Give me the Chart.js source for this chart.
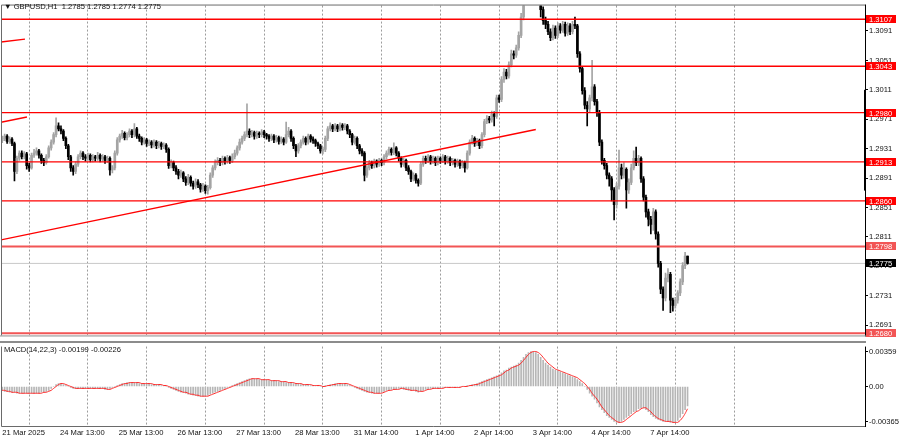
<!DOCTYPE html>
<html>
<head>
<meta charset="utf-8">
<script src="https://cdn.jsdelivr.net/npm/chart.js@4.4.1/dist/chart.umd.min.js"></script>
<style>
  html, body { margin: 0; padding: 0; background: #fff; }
  #wrap { position: relative; width: 900px; height: 441px; background: #fff; overflow: hidden; }
  canvas { position: absolute; left: 0; }
  .cap { position: absolute; font: 7.6px 'Liberation Sans', Arial, sans-serif; color: #111; white-space: pre; line-height: 9px; }
</style>
</head>
<body>
<div id="wrap">
  <canvas id="main" width="900" height="341" style="top:0"></canvas>
  <canvas id="macd" width="900" height="100" style="top:341px"></canvas>
  <div class="cap" id="head" style="left:4px;top:2px"></div>
  <div class="cap" style="left:4px;top:345px">MACD(14,22,3) -0.00199 -0.00226</div>
</div>
<script>
/* ════════════════════════════════════════════
   GBPUSD H1 — candles + MACD(14,22,3)
   ════════════════════════════════════════════ */

// ── Data ─────────────────────────────────────
// prices are pips above 1.0000  (2945 -> 1.2945)
const SYMBOL = 'GBPUSD,H1';

const opens = [
  2942,2945,2948,2941,2944,2938,2900,2918,2925,2920,
  2924,2908,2905,2922,2925,2928,2922,2915,2912,2920,
  2932,2940,2950,2962,2958,2955,2945,2935,2920,2905,
  2900,2910,2920,2925,2920,2918,2922,2916,2920,2918,
  2922,2917,2920,2915,2918,2902,2905,2925,2943,2948,
  2952,2946,2950,2955,2950,2958,2948,2945,2940,2943,
  2938,2940,2936,2940,2935,2938,2934,2936,2930,2908,
  2912,2905,2900,2895,2898,2890,2885,2892,2884,2880,
  2886,2882,2876,2880,2874,2878,2895,2905,2912,2915,
  2912,2918,2914,2919,2915,2920,2925,2932,2940,2945,
  2950,2955,2950,2953,2948,2952,2950,2954,2950,2948,
  2945,2948,2943,2946,2941,2944,2940,2950,2955,2945,
  2935,2928,2935,2940,2945,2940,2948,2944,2942,2938,
  2935,2928,2930,2945,2958,2962,2958,2962,2958,2963,
  2960,2962,2955,2950,2940,2945,2935,2928,2925,2895,
  2905,2912,2908,2914,2910,2915,2912,2920,2925,2930,
  2926,2932,2925,2918,2910,2915,2905,2900,2890,2895,
  2888,2884,2910,2918,2915,2920,2914,2918,2912,2918,
  2915,2920,2914,2918,2912,2915,2910,2914,2908,2912,
  2905,2925,2940,2945,2938,2942,2935,2950,2968,2972,
  2970,2978,2975,3000,2998,3025,3035,3030,3045,3060,
  3058,3068,3085,3110,3135,3150,3170,3190,3180,3160,
  3140,3120,3105,3100,3090,3082,3095,3085,3098,3092,
  3100,3088,3098,3090,3100,3098,3060,3040,3010,2990,
  2985,3000,3015,2995,2980,2940,2915,2908,2895,2890,
  2875,2855,2880,2905,2895,2903,2875,2885,2905,2918,
  2912,2918,2890,2865,2845,2835,2828,2845,2815,2775,
  2740,2728,2755,2760,2725,2718,2725,2735,2750,2772,
  2785
];
const highs = [
  2948,2951,2950,2947,2946,2940,2921,2928,2928,2927,
  2926,2911,2925,2930,2932,2930,2924,2918,2923,2935,
  2943,2953,2973,2966,2962,2957,2947,2937,2922,2908,
  2913,2923,2928,2927,2923,2925,2924,2923,2922,2926,
  2924,2923,2922,2921,2920,2908,2928,2946,2951,2956,
  2954,2953,2958,2957,2965,2960,2951,2947,2946,2945,
  2943,2942,2943,2942,2941,2940,2939,2938,2932,2916,
  2914,2908,2903,2902,2900,2893,2896,2894,2887,2890,
  2889,2884,2884,2882,2881,2898,2908,2916,2919,2918,
  2921,2920,2922,2921,2924,2929,2935,2944,2948,2954,
  2992,2958,2956,2955,2955,2954,2957,2956,2952,2950,
  2951,2950,2949,2948,2947,2946,2967,2960,2957,2947,
  2937,2938,2943,2948,2947,2951,2950,2947,2944,2940,
  2937,2933,2948,2961,2966,2964,2965,2964,2966,2965,
  2965,2964,2957,2952,2948,2947,2937,2931,2927,2908,
  2915,2914,2917,2916,2918,2917,2923,2928,2933,2932,
  2939,2934,2927,2920,2918,2917,2908,2902,2898,2897,
  2890,2913,2921,2921,2923,2922,2921,2920,2921,2920,
  2923,2922,2921,2920,2918,2917,2917,2916,2915,2914,
  2928,2943,2949,2947,2945,2944,2953,2971,2976,2975,
  2982,2981,3004,3004,3029,3040,3039,3049,3065,3064,
  3072,3090,3115,3140,3158,3178,3207,3198,3185,3165,
  3145,3124,3110,3104,3094,3099,3098,3102,3101,3104,
  3103,3102,3101,3104,3110,3100,3063,3043,3014,2995,
  3004,3051,3018,2998,2983,2943,2918,2911,2898,2893,
  2878,2884,2929,2910,2912,2905,2890,2910,2928,2933,
  2922,2920,2893,2868,2849,2839,2850,2848,2818,2778,
  2743,2762,2768,2763,2728,2729,2738,2754,2776,2790,
  2785
];
const lows = [
  2939,2942,2938,2938,2935,2887,2897,2915,2917,2917,
  2903,2900,2903,2919,2922,2918,2911,2908,2910,2918,
  2929,2937,2947,2955,2951,2942,2931,2916,2900,2895,
  2897,2907,2917,2916,2914,2915,2913,2913,2914,2915,
  2913,2914,2911,2912,2895,2898,2902,2922,2940,2945,
  2943,2943,2947,2946,2947,2945,2941,2936,2937,2934,
  2935,2932,2933,2931,2932,2930,2931,2926,2904,2905,
  2901,2896,2890,2892,2886,2881,2882,2880,2876,2877,
  2878,2872,2873,2870,2869,2876,2892,2902,2909,2908,
  2909,2910,2911,2911,2912,2917,2922,2929,2937,2942,
  2947,2946,2947,2944,2945,2946,2947,2946,2944,2941,
  2942,2939,2940,2937,2938,2936,2938,2947,2941,2931,
  2920,2925,2932,2937,2936,2937,2940,2938,2934,2931,
  2925,2924,2927,2942,2955,2954,2955,2954,2955,2956,
  2957,2951,2946,2936,2937,2931,2924,2921,2887,2892,
  2902,2904,2905,2906,2907,2908,2909,2917,2922,2922,
  2923,2921,2914,2906,2907,2901,2896,2886,2887,2884,
  2880,2882,2907,2911,2912,2910,2911,2908,2909,2911,
  2912,2910,2911,2908,2909,2906,2907,2904,2905,2899,
  2903,2922,2937,2934,2935,2931,2932,2947,2965,2966,
  2967,2962,2972,2994,2995,3021,3026,3027,3042,3053,
  3055,3065,3082,3106,3130,3145,3165,3172,3152,3132,
  3110,3100,3094,3086,3078,3079,3081,3082,3088,3089,
  3084,3085,3086,3087,3094,3055,3035,3005,2985,2962,
  2980,2996,2990,2975,2935,2910,2903,2890,2880,2860,
  2834,2850,2876,2890,2891,2850,2870,2882,2902,2908,
  2908,2885,2860,2838,2826,2815,2820,2808,2770,2734,
  2711,2724,2750,2708,2710,2714,2721,2731,2746,2768,
  2774
];
const closes = [
  2945,2948,2941,2944,2938,2900,2918,2925,2920,2924,
  2908,2905,2922,2925,2928,2922,2915,2912,2920,2932,
  2940,2950,2962,2958,2955,2945,2935,2920,2905,2900,
  2910,2920,2925,2920,2918,2922,2916,2920,2918,2922,
  2917,2920,2915,2918,2902,2905,2925,2943,2948,2952,
  2946,2950,2955,2950,2958,2948,2945,2940,2943,2938,
  2940,2936,2940,2935,2938,2934,2936,2930,2908,2912,
  2905,2900,2895,2898,2890,2885,2892,2884,2880,2886,
  2882,2876,2880,2874,2878,2895,2905,2912,2915,2912,
  2918,2914,2919,2915,2920,2925,2932,2940,2945,2950,
  2955,2950,2953,2948,2952,2950,2954,2950,2948,2945,
  2948,2943,2946,2941,2944,2940,2950,2955,2945,2935,
  2928,2935,2940,2945,2940,2948,2944,2942,2938,2935,
  2928,2930,2945,2958,2962,2958,2962,2958,2963,2960,
  2962,2955,2950,2940,2945,2935,2928,2925,2895,2905,
  2912,2908,2914,2910,2915,2912,2920,2925,2930,2926,
  2932,2925,2918,2910,2915,2905,2900,2890,2895,2888,
  2884,2910,2918,2915,2920,2914,2918,2912,2918,2915,
  2920,2914,2918,2912,2915,2910,2914,2908,2912,2905,
  2925,2940,2945,2938,2942,2935,2950,2968,2972,2970,
  2978,2975,3000,2998,3025,3035,3030,3045,3060,3058,
  3068,3085,3110,3135,3150,3170,3190,3180,3160,3140,
  3120,3105,3100,3090,3082,3095,3085,3098,3092,3100,
  3088,3098,3090,3100,3098,3060,3040,3010,2990,2985,
  3000,3015,2995,2980,2940,2915,2908,2895,2890,2875,
  2855,2880,2905,2895,2903,2875,2885,2905,2918,2912,
  2918,2890,2865,2845,2835,2828,2845,2815,2775,2740,
  2728,2755,2760,2725,2718,2725,2735,2750,2772,2785,
  2775
];

// MACD main (histogram) and signal, in units of 0.0001
const macdMain = [
  -4,-5,-5,-6,-6,-6,-7,-7,-7,-7,-7,-7,
  -7,-7,-7,-7,-6,-6,-5,-4,-2,
  0,2,3,3,2,1,0,
  -1,-2,-2,-2,-2,
  -2,-2,-2,-2,-2,-2,-2,-2,-2,-3,-3,-2,-1,0,
  1,2,3,3,4,4,4,4,4,3,
  3,3,3,3,2,2,2,2,1,1,0,
  -1,-2,-3,-4,-5,-6,-6,-7,-8,-8,-9,-9,-10,-10,-10,-10,
  -9,-8,-7,-6,-5,-4,-3,-2,-1,0,1,
  2,3,4,5,6,7,8,8,
  8,8,7,7,7,7,6,6,6,6,5,5,5,4,4,4,3,3,3,2,
  2,2,2,1,1,1,1,0,0,1,1,2,2,3,3,
  3,3,3,2,1,
  0,-1,-2,-3,-4,-5,-6,-6,-7,-7,-7,-7,
  -6,-5,-4,-4,-3,-3,-3,-2,-2,-3,-3,-4,-4,
  -4,-5,-6,-5,-4,
  -3,-3,-2,-2,-2,-2,-2,-1,-1,-1,-1,-1,-1,-1,0,0,0,
  1,1,2,2,3,4,5,6,7,8,9,10,11,12,
  14,16,17,19,20,21,22,24,
  27,30,33,35,36,36,35,
  33,30,27,24,22,20,18,17,16,15,
  14,13,12,11,10,9,7,5,
  3,0,-3,-7,-10,-13,-17,-21,
  -24,-27,-30,-32,-34,-36,-37,-37,
  -36,-34,-32,-30,-28,-26,-25,-23,-22,-22,
  -24,-26,-29,-31,-33,-34,-35,-36,
  -36,-36,-37,-37,-37,-35,
  -32,-28,-24,-20
];
const macdSignal = [
  -4,-4,-5,-5,-6,-6,-6,-7,-7,-7,-7,-7,
  -7,-7,-7,-7,-7,-6,-6,-5,-4,
  -2,0,2,3,3,2,1,
  0,-1,-2,-2,-2,
  -2,-2,-2,-2,-2,-2,-2,-2,-2,-2,-3,-3,-2,-1,
  0,1,2,3,3,4,4,4,4,4,
  3,3,3,3,3,2,2,2,2,1,1,
  0,-1,-2,-3,-4,-5,-6,-6,-7,-8,-8,-9,-9,-10,-10,-10,
  -10,-9,-8,-7,-6,-5,-4,-3,-2,-1,0,
  1,2,3,4,5,6,7,8,
  8,8,8,7,7,7,7,6,6,6,6,5,5,5,4,4,4,3,3,3,
  2,2,2,2,1,1,1,1,0,0,1,1,2,2,3,
  3,3,3,3,2,
  1,0,-1,-2,-3,-4,-5,-6,-6,-7,-7,-7,
  -7,-6,-5,-4,-4,-3,-3,-3,-2,-2,-3,-3,-4,
  -4,-4,-5,-5,-5,
  -4,-3,-3,-2,-2,-2,-2,-2,-1,-1,-1,-1,-1,-1,-1,0,0,
  0,1,1,2,2,3,4,5,6,7,8,9,10,11,
  12,14,16,17,19,20,21,22,
  24,27,30,33,35,36,36,
  35,33,30,27,24,22,20,18,17,16,
  15,14,13,12,11,10,9,7,
  5,3,0,-3,-7,-10,-13,-17,
  -21,-24,-27,-30,-32,-34,-36,-37,
  -37,-36,-34,-32,-30,-28,-26,-25,-23,-22,
  -22,-24,-26,-29,-31,-33,-34,-35,
  -36,-36,-36,-37,-37,-37,
  -35,-32,-28,-23
];

// horizontal levels and trend lines (bar index, price)
const levels = [3107, 3043, 2980, 2913, 2860, 2798, 2680];
const trendLines = [
  [-0.5, 2807, 218, 2957],
  [-0.5, 3076, 9.3, 3080],
  [-0.5, 2967, 10.1, 2974]
];
const rangeMark = [3011, 2874];

// axis ticks
const priceTicks = [2691, 2731, 2771, 2811, 2851, 2891, 2931, 2971, 3011, 3051, 3091];
const macdTicks = [0.00359, 0, -0.00365];
const macdTickLabels = ['0.00359', '0.00', '-0.00365'];
const tickBars = [11, 35, 59, 83, 107, 131, 155, 179, 203, 227, 251, 275, 299];
const timeLabels = ['21 Mar 2025', '24 Mar 13:00', '25 Mar 13:00', '26 Mar 13:00', '27 Mar 13:00',
  '28 Mar 13:00', '31 Mar 14:00', '1 Apr 14:00', '2 Apr 14:00', '3 Apr 14:00', '4 Apr 14:00', '7 Apr 14:00'];

// ── Layout / style ───────────────────────────
const SLOTS = 353;                 // bars + empty shift on the right
const Y_MIN = 1.267707, Y_MAX = 1.312558;
const M_MIN = -0.004074, M_MAX = 0.004113;
const MACD_UNIT = 0.0001;
const FONT = "'Liberation Sans', Arial, sans-serif";
const FS = 7.6;
const BULL = '#a4a4a4', BEAR = '#000000';
const RED = '#ff0000', RED_SOFT = '#f25555';

const px = v => 1 + v / 10000;
const last = closes.length - 1;
const slots = Array.from({ length: SLOTS }, (_, i) => i);

document.getElementById('head').textContent =
  `▼ ${SYMBOL}  ${[opens[last], highs[last], lows[last], closes[last]].map(v => px(v).toFixed(4)).join(' ')}`;

const gridColor = ctx => (ctx.tick && tickBars.includes(ctx.tick.value)) ? '#9c9c9c' : 'rgba(0,0,0,0)';

// ── Plugins ──────────────────────────────────
const mainFrame = {
  id: 'mainFrame',
  afterDraw(chart) {
    const { ctx, chartArea: a } = chart;
    ctx.save();
    ctx.lineWidth = 1;
    ctx.strokeStyle = '#6a6a6a';
    ctx.beginPath();
    ctx.moveTo(a.left + 0.5, a.bottom); ctx.lineTo(a.left + 0.5, a.top - 0.5);
    ctx.lineTo(a.right + 0.5, a.top - 0.5);
    ctx.stroke();
    ctx.strokeStyle = '#000';
    ctx.beginPath();
    ctx.moveTo(a.right + 0.5, a.top - 1); ctx.lineTo(a.right + 0.5, a.bottom + 1);
    ctx.stroke();
    ctx.fillStyle = '#8c8c8c';
    ctx.fillRect(0, a.bottom, a.right + 1, 1);

    // price tags on the right scale
    const y = chart.scales.y;
    const y1 = y.getPixelForValue(px(rangeMark[0])), y2 = y.getPixelForValue(px(rangeMark[1]));
    ctx.fillStyle = '#000';
    ctx.fillRect(a.right - 1, y1, 2, y2 - y1);

    ctx.font = `${FS}px ${FONT}`;
    ctx.textBaseline = 'middle';
    const tag = (v, bg) => {
      const yy = Math.round(y.getPixelForValue(px(v)));
      ctx.fillStyle = bg;
      ctx.fillRect(a.right + 1, yy - 4, 30, 8);
      ctx.fillStyle = '#fff';
      ctx.fillText(px(v).toFixed(4), a.right + 4, yy + 0.5);
    };
    levels.forEach(lv => tag(lv, lv < 2800 ? RED_SOFT : RED));
    tag(closes[last], '#000');
    ctx.restore();
  }
};

const macdFrame = {
  id: 'macdFrame',
  afterDraw(chart) {
    const { ctx, chartArea: a } = chart;
    ctx.save();
    ctx.fillStyle = '#8c8c8c';
    ctx.fillRect(0, 0, a.right + 1, 2);
    ctx.lineWidth = 1;
    ctx.strokeStyle = '#6a6a6a';
    ctx.beginPath();
    ctx.moveTo(a.left + 0.5, a.top); ctx.lineTo(a.left + 0.5, a.bottom + 0.5);
    ctx.lineTo(a.right, a.bottom + 0.5);
    ctx.stroke();
    ctx.strokeStyle = '#000';
    ctx.beginPath();
    ctx.moveTo(a.right + 0.5, a.top); ctx.lineTo(a.right + 0.5, a.bottom + 1);
    ctx.stroke();
    ctx.restore();
  }
};

// ── Main chart ───────────────────────────────
const candleColors = opens.map((o, i) => closes[i] >= o ? BULL : BEAR);

const lineSet = (pts, color, width, order) => ({
  type: 'line', xAxisID: 'xl', data: pts, borderColor: color, borderWidth: width,
  pointRadius: 0, tension: 0, order
});

new Chart(document.getElementById('main'), {
  type: 'bar',
  data: {
    labels: slots,
    datasets: [
      { data: lows.map((l, i) => [px(l), px(highs[i])]), backgroundColor: candleColors,
        barThickness: 1, grouped: false, order: 2, clip: 0 },
      { data: opens.map((o, i) => [px(o), px(closes[i])]), backgroundColor: candleColors,
        barThickness: 2, minBarLength: 1, grouped: false, order: 1, clip: 0 },
      lineSet([{ x: -0.5, y: px(closes[last]) }, { x: SLOTS - 0.5, y: px(closes[last]) }], '#c8c8c8', 1, 3),
      ...levels.map(lv => lineSet([{ x: -0.5, y: px(lv) }, { x: SLOTS - 0.5, y: px(lv) }],
        lv < 2800 ? RED_SOFT : RED, lv < 2800 ? 2 : 1.4, 0)),
      ...trendLines.map(t => lineSet([{ x: t[0], y: px(t[1]) }, { x: t[2], y: px(t[3]) }], RED, 1.4, 0))
    ]
  },
  options: {
    responsive: false, animation: false, devicePixelRatio: 1,
    layout: { padding: { left: 1, top: 2, right: 0, bottom: 1 } },
    plugins: { legend: { display: false }, tooltip: { enabled: false } },
    elements: { bar: { borderWidth: 0 }, point: { radius: 0 } },
    scales: {
      x: {
        type: 'category', offset: true,
        grid: { offset: false, color: gridColor, lineWidth: 1, drawTicks: false },
        border: { display: false, dash: [2, 2] },
        ticks: { display: false },
        afterFit: s => { s.height = 0; }
      },
      xl: { type: 'linear', display: false, offset: false, grid: { offset: false }, min: -0.5, max: SLOTS - 0.5 },
      y: {
        type: 'linear', position: 'right', min: Y_MIN, max: Y_MAX,
        grid: { drawOnChartArea: false, drawTicks: true, tickLength: 3, tickColor: '#000' },
        border: { display: false },
        ticks: { color: '#111', font: { family: FONT, size: FS }, padding: 1, callback: v => v.toFixed(4) },
        afterBuildTicks: s => { s.ticks = priceTicks.map(p => ({ value: px(p) })); },
        afterFit: s => { s.width = 35; }
      }
    }
  },
  plugins: [mainFrame]
});

// ── MACD chart ───────────────────────────────
new Chart(document.getElementById('macd'), {
  type: 'bar',
  data: {
    labels: slots,
    datasets: [
      { data: macdMain.map(v => v * MACD_UNIT), backgroundColor: '#b6b6b6', barThickness: 1, order: 1, clip: 0 },
      { type: 'line', data: macdSignal.map(v => v * MACD_UNIT), borderColor: '#ff2a2a', borderWidth: 1,
        pointRadius: 0, tension: 0.2, order: 0 }
    ]
  },
  options: {
    responsive: false, animation: false, devicePixelRatio: 1,
    layout: { padding: { left: 1, top: 2, right: 0, bottom: 0 } },
    plugins: { legend: { display: false }, tooltip: { enabled: false } },
    elements: { bar: { borderWidth: 0 }, point: { radius: 0 } },
    scales: {
      x: {
        type: 'category', offset: true,
        grid: { offset: false, color: gridColor, lineWidth: 1, drawTicks: false },
        border: { display: false, dash: [2, 2] },
        ticks: {
          autoSkip: false, maxRotation: 0, minRotation: 0, labelOffset: -5.5, padding: 2,
          color: '#111', font: { family: FONT, size: FS },
          callback: v => { const k = tickBars.indexOf(v); return k >= 0 ? (timeLabels[k] || '') : ''; }
        },
        afterFit: s => { s.height = 15; }
      },
      y: {
        type: 'linear', position: 'right', min: M_MIN, max: M_MAX,
        grid: { drawOnChartArea: false, drawTicks: true, tickLength: 3, tickColor: '#000' },
        border: { display: false },
        ticks: {
          color: '#111', font: { family: FONT, size: FS }, padding: 1,
          callback: v => macdTickLabels[macdTicks.indexOf(v)] ?? ''
        },
        afterBuildTicks: s => { s.ticks = macdTicks.map(v => ({ value: v })); },
        afterFit: s => { s.width = 35; }
      }
    }
  },
  plugins: [macdFrame]
});
</script>
</body>
</html>
